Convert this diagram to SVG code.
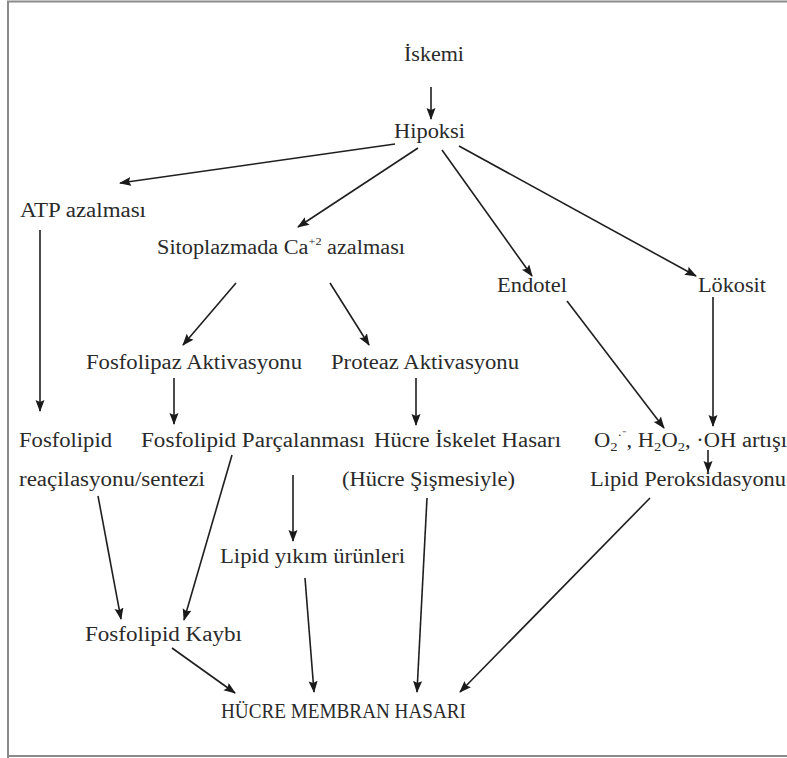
<svg xmlns="http://www.w3.org/2000/svg" width="787" height="758" viewBox="0 0 787 758">
<defs>
<marker id="ah" markerWidth="12" markerHeight="10" refX="11" refY="4.5" orient="auto" markerUnits="userSpaceOnUse">
<path d="M0,0 L12,4.5 L0,9 L2,4.5 z" fill="#1a1a1a"/>
</marker>
<style>
.t text{font-family:'Liberation Serif','Times New Roman',serif;font-size:20px;fill:#2a2a2a}
.c line{stroke:#1f1f1f;stroke-width:1.6;marker-end:url(#ah)}
</style>
</defs>
<rect x="0" y="0" width="787" height="758" fill="#ffffff"/>
<path d="M8,758 L8,1.5 L787,1.5 M8,756 L787,756" fill="none" stroke="#8a8a8a" stroke-width="2"/>
<g class="c" id="connectors">
<line x1="431" y1="87" x2="431" y2="119"/>
<line x1="395" y1="144" x2="120" y2="183"/>
<line x1="418" y1="148" x2="298" y2="227"/>
<line x1="442" y1="150" x2="532" y2="276"/>
<line x1="459" y1="146" x2="696" y2="276"/>
<line x1="40" y1="230" x2="40" y2="411"/>
<line x1="236" y1="283" x2="183" y2="345"/>
<line x1="330" y1="283" x2="369" y2="345"/>
<line x1="174" y1="378" x2="174" y2="424"/>
<line x1="416" y1="378" x2="416" y2="425"/>
<line x1="567" y1="301" x2="664" y2="428"/>
<line x1="713" y1="297" x2="713" y2="426"/>
<line x1="708" y1="450" x2="708" y2="472"/>
<line x1="98" y1="496" x2="121" y2="619"/>
<line x1="232" y1="455" x2="184" y2="620"/>
<line x1="293" y1="475" x2="293" y2="541"/>
<line x1="305" y1="578" x2="314" y2="692"/>
<line x1="427" y1="498" x2="417" y2="692"/>
<line x1="650" y1="498" x2="460" y2="692"/>
<line x1="172" y1="648" x2="235" y2="693"/>
</g>
<g class="t">
<g id="n-iskemi"><text x="404" y="61" textLength="60" lengthAdjust="spacingAndGlyphs">İskemi</text></g>
<g id="n-hipoksi"><text x="394" y="138" textLength="71" lengthAdjust="spacingAndGlyphs">Hipoksi</text></g>
<g id="n-atp"><text x="20" y="217" textLength="126" lengthAdjust="spacingAndGlyphs">ATP azalması</text></g>
<g id="n-sito"><text x="157" y="254" textLength="248" lengthAdjust="spacingAndGlyphs">Sitoplazmada Ca<tspan font-size="11" dy="-9">+2</tspan><tspan dy="9"> azalması</tspan></text></g>
<g id="n-endotel"><text x="497" y="292" textLength="70" lengthAdjust="spacingAndGlyphs">Endotel</text></g>
<g id="n-lokosit"><text x="698" y="292" textLength="68" lengthAdjust="spacingAndGlyphs">Lökosit</text></g>
<g id="n-fosfolipaz"><text x="86" y="369" textLength="216" lengthAdjust="spacingAndGlyphs">Fosfolipaz Aktivasyonu</text></g>
<g id="n-proteaz"><text x="331" y="369" textLength="188" lengthAdjust="spacingAndGlyphs">Proteaz Aktivasyonu</text></g>
<g id="n-reacil"><text x="19" y="447" textLength="93" lengthAdjust="spacingAndGlyphs">Fosfolipid</text><text x="19" y="486" textLength="186" lengthAdjust="spacingAndGlyphs">reaçilasyonu/sentezi</text></g>
<g id="n-parcalanma"><text x="141" y="447" textLength="224" lengthAdjust="spacingAndGlyphs">Fosfolipid Parçalanması</text></g>
<g id="n-iskelet"><text x="374" y="447" textLength="187" lengthAdjust="spacingAndGlyphs">Hücre İskelet Hasarı</text><text x="342" y="486" textLength="173" lengthAdjust="spacingAndGlyphs">(Hücre Şişmesiyle)</text></g>
<g id="n-radikal"><text x="594" y="447" textLength="193" lengthAdjust="spacingAndGlyphs">O<tspan font-size="13" dy="4">2</tspan><tspan font-size="12" dy="-12">·⁻</tspan><tspan dy="8">, H</tspan><tspan font-size="13" dy="4">2</tspan><tspan dy="-4">O</tspan><tspan font-size="13" dy="4">2</tspan><tspan dy="-4">, ·OH artışı</tspan></text><text x="590" y="486" textLength="196" lengthAdjust="spacingAndGlyphs">Lipid Peroksidasyonu</text></g>
<g id="n-yikim"><text x="220" y="563" textLength="185" lengthAdjust="spacingAndGlyphs">Lipid yıkım ürünleri</text></g>
<g id="n-kayip"><text x="85" y="641" textLength="157" lengthAdjust="spacingAndGlyphs">Fosfolipid Kaybı</text></g>
<g id="n-hasar"><text x="221" y="718" textLength="245" lengthAdjust="spacingAndGlyphs" font-size="21" style="font-size:21px">HÜCRE MEMBRAN HASARI</text></g>
</g>
</svg>
